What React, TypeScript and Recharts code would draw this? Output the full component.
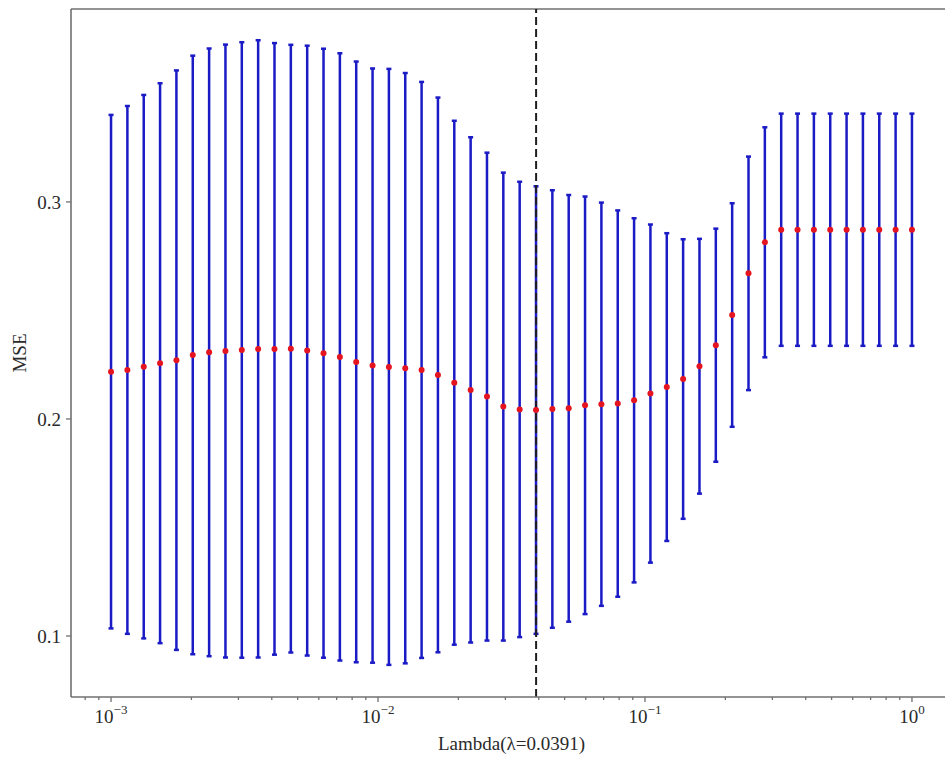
import {
  ComposedChart,
  ErrorBar,
  Label,
  Line,
  ReferenceLine,
  XAxis,
  YAxis,
} from "recharts";

// lambda grid of the cross-validation (50 points, 1e-3 .. 1)
const lambdas = [
  0.001, 0.0011514, 0.0013257, 0.0015264, 0.0017575, 0.0020236, 0.00233,
  0.0026827, 0.0030888, 0.0035565, 0.0040949, 0.0047149, 0.0054287, 0.0062506,
  0.0071969, 0.0082864, 0.009541, 0.010985, 0.012649, 0.014563, 0.016768,
  0.019307, 0.02223, 0.025595, 0.029471, 0.033932, 0.039069, 0.044984,
  0.051795, 0.059636, 0.068665, 0.07906, 0.09103, 0.10481, 0.12068, 0.13895,
  0.15999, 0.18421, 0.2121, 0.24421, 0.28118, 0.32375, 0.37276, 0.42919,
  0.49417, 0.56899, 0.65513, 0.75431, 0.86851, 1.0,
];

// mean MSE across folds
const mseMean = [
  0.2218, 0.2226, 0.2241, 0.2257, 0.2271, 0.2295, 0.2307, 0.2313, 0.2318, 0.2323,
  0.2323, 0.2324, 0.2315, 0.2303, 0.2286, 0.2263, 0.2246, 0.224, 0.2234, 0.2226,
  0.2203, 0.2167, 0.2134, 0.2103, 0.2057, 0.2044, 0.2041, 0.2046, 0.2049, 0.2063,
  0.2068, 0.2071, 0.2086, 0.2117, 0.2147, 0.2184, 0.2243, 0.234, 0.2479, 0.2671,
  0.2814, 0.2872, 0.2872, 0.2872, 0.2872, 0.2872, 0.2872, 0.2872, 0.2872, 0.2872,
];

// standard deviation of MSE across folds
const mseStd = [
  0.1183, 0.1216, 0.1252, 0.129, 0.1335, 0.1379, 0.14, 0.1412, 0.1418, 0.1422,
  0.1409, 0.14, 0.1405, 0.1403, 0.1399, 0.1384, 0.1369, 0.1373, 0.136, 0.1327,
  0.1278, 0.1207, 0.1164, 0.1124, 0.1078, 0.1049, 0.1031, 0.1008, 0.0983, 0.0962,
  0.0929, 0.089, 0.0839, 0.0779, 0.0709, 0.0644, 0.0587, 0.0537, 0.0515, 0.0538,
  0.053, 0.0535, 0.0535, 0.0535, 0.0535, 0.0535, 0.0535, 0.0535, 0.0535, 0.0535,
];

const bestLambda = 0.0391;

const xMajorTicks = [0.001, 0.01, 0.1, 1];
const xTickExponents = ["\u22123", "\u22122", "\u22121", "0"];
const xMinorTicks = [
  0.0008, 0.0009,
  0.002, 0.003, 0.004, 0.005, 0.006, 0.007, 0.008, 0.009,
  0.02, 0.03, 0.04, 0.05, 0.06, 0.07, 0.08, 0.09,
  0.2, 0.3, 0.4, 0.5, 0.6, 0.7, 0.8, 0.9,
];
const yTicks = [0.1, 0.2, 0.3];
const yTickLabels = ["0.1", "0.2", "0.3"];

const xDomain: [number, number] = [0.000708, 1.4125];
const yDomain: [number, number] = [0.0719, 0.3889];

const data = lambdas.map((lambda, i) => ({
  lambda,
  mse: mseMean[i],
  err: mseStd[i],
}));

const serif = '"Liberation Serif", "Times New Roman", serif';
const axisColor = "#707070";
const textColor = "#2a2a2a";
const barBlue = "#1b1bc6";
const dotRed = "#e5141f";

const XTick = (props: any) => {
  const { x, y, payload } = props;
  const idx = xMajorTicks.indexOf(payload.value);
  const major = idx >= 0;
  return (
    <g>
      <line
        x1={x}
        x2={x}
        y1={y}
        y2={y + (major ? 5 : 3)}
        stroke={axisColor}
        strokeWidth={1.3}
      />
      {major && (
        <text
          x={x}
          y={y + 26}
          textAnchor="middle"
          fontFamily={serif}
          fontSize={19}
          fill={textColor}
        >
          10
          <tspan fontSize={13} dy={-9}>
            {xTickExponents[idx]}
          </tspan>
        </text>
      )}
    </g>
  );
};

const YTick = (props: any) => {
  const { x, y, payload } = props;
  const idx = yTicks.indexOf(payload.value);
  return (
    <g>
      <line x1={x - 5} x2={x} y1={y} y2={y} stroke={axisColor} strokeWidth={1.3} />
      <text
        x={x - 10}
        y={y}
        textAnchor="end"
        dy="0.35em"
        fontFamily={serif}
        fontSize={19}
        fill={textColor}
      >
        {yTickLabels[idx]}
      </text>
    </g>
  );
};

const XLabel = (props: any) => {
  const { viewBox } = props;
  const cx = viewBox.x + viewBox.width / 2;
  return (
    <text
      x={cx}
      y={viewBox.y + 53}
      textAnchor="middle"
      fontFamily={serif}
      fontSize={19}
      fill={textColor}
    >
      Lambda(λ=0.0391)
    </text>
  );
};

const YLabel = (props: any) => {
  const { viewBox } = props;
  const cy = viewBox.y + viewBox.height / 2;
  return (
    <text
      x={19}
      y={cy}
      transform={`rotate(-90, 19, ${cy})`}
      textAnchor="middle"
      dy="0.35em"
      fontFamily={serif}
      fontSize={19}
      fill={textColor}
    >
      MSE
    </text>
  );
};

export default function App() {
  return (
    <div
      style={{
        position: "fixed",
        left: 0,
        top: 0,
        width: 945,
        height: 757,
        overflow: "hidden",
        background: "#fff",
      }}
    >
      {/* the plot area runs past the right edge, so the right spine is cut off */}
      <ComposedChart
        width={945}
        height={757}
        data={data}
        margin={{ top: 9, right: -7, bottom: 0, left: 0 }}
      >
        <XAxis
          dataKey="lambda"
          type="number"
          scale="log"
          domain={xDomain}
          allowDataOverflow
          ticks={[...xMajorTicks, ...xMinorTicks]}
          interval={0}
          tick={<XTick />}
          tickLine={false}
          axisLine={{ stroke: axisColor, strokeWidth: 1.6 }}
          tickSize={0}
          tickMargin={0}
          height={60}
          label={<Label content={<XLabel />} />}
        />
        <YAxis
          type="number"
          domain={yDomain}
          allowDataOverflow
          ticks={yTicks}
          interval={0}
          tick={<YTick />}
          tickLine={false}
          axisLine={{ stroke: axisColor, strokeWidth: 1.6 }}
          tickSize={0}
          tickMargin={0}
          width={71}
          label={<Label content={<YLabel />} />}
        />
        {/* top spine of the frame */}
        <ReferenceLine y={yDomain[1]} stroke={axisColor} strokeWidth={1.6} />
        <Line
          dataKey="mse"
          stroke="none"
          isAnimationActive={false}
          dot={{ r: 3, fill: dotRed, stroke: "none" }}
          activeDot={false}
        >
          <ErrorBar
            dataKey="err"
            direction="y"
            width={2.5}
            stroke={barBlue}
            strokeWidth={2.5}
            isAnimationActive={false}
          />
        </Line>
        <ReferenceLine
          x={bestLambda}
          stroke="#1e1e1e"
          strokeWidth={2}
          strokeDasharray="8 4"
        />
      </ComposedChart>
    </div>
  );
}
